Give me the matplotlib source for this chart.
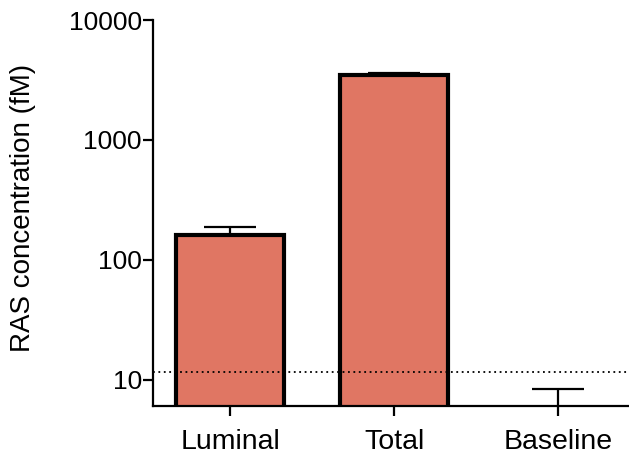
import matplotlib
matplotlib.use("Agg")
import matplotlib.pyplot as plt
import numpy as np

plt.rcParams['font.family'] = ['Liberation Sans', 'DejaVu Sans']

categories = ["Luminal", "Total", "Baseline"]
values = [161, 3470, 5.0]
err_upper = [27, 130, 3.4]
detection_limit = 11.7
yticks = [10, 100, 1000, 10000]
ytick_labels = ["10", "100", "1000", "10000"]

fig = plt.figure(figsize=(6.29, 4.57), dpi=100)
ax = fig.add_axes([153/629, 1 - 406/457, 476/629, (406 - 20)/457])

x = np.arange(len(categories))
ax.bar(x, values, width=0.66, color="#E07663", edgecolor="black", linewidth=3, zorder=2)
ax.errorbar(x, values, yerr=[np.zeros(len(values)), err_upper], fmt="none",
            ecolor="black", elinewidth=1.6, capsize=19, capthick=1.6, zorder=1)
ax.axhline(detection_limit, color="black", linestyle=(0, (1, 2)), linewidth=1.3, zorder=3)

ax.set_yscale("log")
ax.set_ylim(6.07, 10000)
ax.set_xlim(-0.47, 2.43)
ax.set_yticks(yticks)
ax.set_yticklabels(ytick_labels)
ax.minorticks_off()
ax.set_xticks(x)
ax.set_xticklabels(categories)
ax.tick_params(axis="both", width=1.6, length=7, color="black")
ax.tick_params(axis="y", labelsize=19, pad=1)
ax.tick_params(axis="x", labelsize=20.5, pad=9.5)
ax.set_ylabel("RAS concentration (fM)", fontsize=20)
ax.yaxis.set_label_coords((36 - 153) / 476, (406 - 207.5) / 386)

for s in ["top", "right"]:
    ax.spines[s].set_visible(False)
for s in ["left", "bottom"]:
    ax.spines[s].set_linewidth(1.6)

fig.savefig("out.png", dpi=100)
